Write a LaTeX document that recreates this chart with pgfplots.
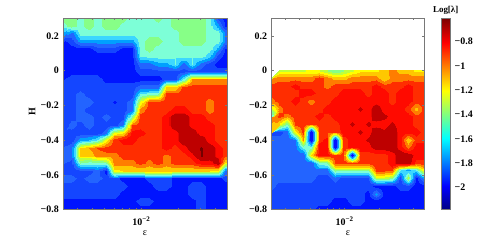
\documentclass[border=0pt]{standalone}
\usepackage{fontspec}
\setmainfont{Liberation Serif}
\usepackage{pgfplots}
\usepgfplotslibrary{patchplots}
\pgfplotsset{compat=1.18}
\definecolor{frame}{RGB}{120,120,120}
\pgfplotsset{
  colormap={bands}{
    rgb255(0)=(0,20,255) rgb255(178)=(0,20,255)
    rgb255(180)=(20,70,255) rgb255(278)=(20,70,255)
    rgb255(280)=(35,100,255) rgb255(378)=(35,100,255)
    rgb255(380)=(0,160,255) rgb255(478)=(0,160,255)
    rgb255(480)=(60,215,255) rgb255(578)=(60,215,255)
    rgb255(580)=(125,255,215) rgb255(678)=(125,255,215)
    rgb255(680)=(135,255,135) rgb255(778)=(135,255,135)
    rgb255(780)=(190,255,60) rgb255(878)=(190,255,60)
    rgb255(880)=(255,255,0) rgb255(978)=(255,255,0)
    rgb255(980)=(255,200,0) rgb255(1078)=(255,200,0)
    rgb255(1080)=(255,125,0) rgb255(1178)=(255,125,0)
    rgb255(1180)=(255,45,0) rgb255(1278)=(255,45,0)
    rgb255(1280)=(255,10,0) rgb255(1378)=(255,10,0)
    rgb255(1380)=(190,0,0) rgb255(1498)=(190,0,0)
    rgb255(1500)=(115,0,0) rgb255(1570)=(115,0,0)
  },
  common/.style={
    scale only axis, height=191bp, anchor=south west,
    view={0}{90},
    tick align=inside,
    every tick/.style={frame, line width=0.4bp},
    axis line style={frame, line width=1bp},
    every tick label/.append style={font=\bfseries\fontsize{10}{12}\selectfont},
    point meta min=-2.18, point meta max=-0.61,
  },
  panel/.style={
    common,
    xmin=-2.638, xmax=-1.301, ymin=-0.8, ymax=0.3,
    xtick={-2}, xticklabels={10\textsuperscript{−2}},
    minor xtick={-2.523,-2.398,-2.301,-2.222,-2.155,-2.097,-2.046,-1.699,-1.523,-1.398},
    ytick={-0.8,-0.6,-0.4,-0.2,0,0.2},
    yticklabels={−0.8,−0.6,−0.4,−0.2,0,0.2},
    major tick length=2bp, minor tick length=1.2bp,
    xticklabel style={yshift=-4bp},
    yticklabel style={xshift=-1bp},
    colormap name=bands,
  },
}
\begin{document}
\begin{tikzpicture}[x=1bp,y=1bp]
\path[use as bounding box] (0,0) rectangle (485,249);
\begin{axis}[panel, at={(63.3bp,39.5bp)}, width=163.7bp]
\addplot3[surf, shader=interp, patch type=bilinear, mesh/cols=20, point meta=z]
 table[row sep=\\, x expr={-2.638+0.07037*mod(\coordindex,20)}, y expr={-0.8+0.044*floor(\coordindex/20)}, z index=0, header=false] {
-2.05\\-2.05\\-2.05\\-2.05\\-2.05\\-2.05\\-2.05\\-2.05\\-2.05\\-2.05\\-2.05\\-2.05\\-2.05\\-2.05\\-2.05\\-2.05\\-1.95\\-2.05\\-2.05\\-2.05\\
-2.05\\-2.05\\-2.05\\-2.05\\-2.05\\-2.05\\-2.05\\-2.05\\-2.05\\-1.95\\-1.95\\-2.05\\-2.05\\-2.05\\-2.05\\-2.05\\-1.95\\-2.05\\-2.05\\-2.05\\
-1.95\\-1.95\\-1.95\\-1.95\\-1.95\\-1.95\\-1.95\\-2.05\\-2.05\\-2.05\\-2.05\\-2.05\\-2.05\\-2.05\\-2.05\\-1.95\\-1.95\\-2.05\\-2.05\\-2.05\\
-1.95\\-1.95\\-1.95\\-1.95\\-1.95\\-1.95\\-1.95\\-1.95\\-2.05\\-2.05\\-2.05\\-1.95\\-1.95\\-2.05\\-2.05\\-1.95\\-1.95\\-2.05\\-2.05\\-2.05\\
-1.85\\-1.85\\-1.95\\-1.85\\-1.85\\-1.95\\-1.95\\-2.05\\-2.05\\-2.05\\-1.95\\-1.95\\-1.95\\-2.05\\-2.05\\-2.05\\-2.05\\-2.05\\-2.05\\-1.95\\
-1.95\\-1.95\\-1.95\\-1.95\\-1.85\\-2.05\\-1.25\\-1.2\\-1.2\\-1.2\\-1.2\\-1.2\\-1.2\\-1.2\\-1.2\\-1.2\\-1.2\\-1.2\\-1.25\\-1.95\\
-1.95\\-1.95\\-1.5\\-1.55\\-1.55\\-1.5\\-1.05\\-1.05\\-1.05\\-0.95\\-1.05\\-0.95\\-1.05\\-0.95\\-0.95\\-0.95\\-0.85\\-0.85\\-0.72\\-1.3\\
-1.85\\-1.85\\-1.2\\-1.2\\-1.05\\-1.05\\-1.05\\-0.95\\-0.95\\-0.95\\-0.95\\-0.95\\-1.05\\-0.95\\-0.95\\-0.85\\-0.67\\-0.72\\-0.85\\-0.95\\
-1.85\\-1.85\\-1.2\\-1.1\\-1.0\\-0.95\\-0.95\\-0.95\\-0.95\\-0.95\\-0.95\\-0.95\\-0.85\\-0.95\\-0.85\\-0.72\\-0.67\\-0.72\\-0.85\\-0.95\\
-1.95\\-1.95\\-1.75\\-1.7\\-1.6\\-1.25\\-0.95\\-0.85\\-0.85\\-0.95\\-0.95\\-0.95\\-0.85\\-0.85\\-0.72\\-0.72\\-0.72\\-0.85\\-0.95\\-0.95\\
-1.95\\-1.95\\-1.95\\-1.95\\-1.95\\-1.85\\-1.25\\-1.2\\-0.85\\-0.85\\-0.95\\-0.95\\-0.85\\-0.85\\-0.72\\-0.72\\-0.85\\-0.85\\-0.95\\-0.95\\
-1.95\\-1.85\\-1.95\\-1.85\\-1.95\\-1.95\\-1.95\\-1.8\\-1.0\\-0.95\\-0.95\\-0.95\\-0.85\\-0.72\\-0.72\\-0.85\\-0.85\\-0.85\\-0.95\\-0.95\\
-1.95\\-1.95\\-1.85\\-1.85\\-1.95\\-1.85\\-1.95\\-1.95\\-1.45\\-0.95\\-0.95\\-0.95\\-0.85\\-0.72\\-0.72\\-0.85\\-0.85\\-0.95\\-0.95\\-0.95\\
-1.95\\-1.95\\-1.85\\-1.95\\-1.95\\-1.95\\-1.95\\-1.95\\-1.85\\-1.05\\-0.95\\-0.95\\-0.95\\-0.85\\-0.85\\-0.95\\-0.95\\-1.05\\-0.95\\-0.95\\
-1.95\\-1.95\\-1.85\\-1.85\\-1.95\\-1.95\\-2.01\\-1.95\\-1.85\\-1.3\\-0.95\\-0.95\\-0.95\\-0.95\\-0.95\\-0.95\\-0.95\\-1.05\\-0.95\\-0.95\\
-1.95\\-1.95\\-1.85\\-1.95\\-1.95\\-1.95\\-1.95\\-1.95\\-1.95\\-1.6\\-1.55\\-1.5\\-0.95\\-0.95\\-0.95\\-0.95\\-0.95\\-0.95\\-0.95\\-0.95\\
-1.95\\-1.95\\-1.95\\-1.95\\-1.95\\-1.95\\-1.95\\-1.95\\-1.95\\-1.85\\-1.85\\-1.85\\-1.2\\-1.2\\-0.95\\-0.95\\-0.95\\-0.95\\-0.95\\-0.95\\
-1.95\\-1.95\\-1.95\\-1.95\\-1.95\\-2.05\\-2.05\\-2.05\\-2.05\\-2.05\\-2.05\\-2.05\\-1.95\\-1.95\\-1.6\\-1.1\\-1.1\\-1.1\\-1.1\\-1.1\\
-2.05\\-2.05\\-2.05\\-2.05\\-2.05\\-2.05\\-2.05\\-2.05\\-2.05\\-1.95\\-1.95\\-1.95\\-1.95\\-1.95\\-1.95\\-1.95\\-1.95\\-1.95\\-1.95\\-1.95\\
-2.05\\-2.05\\-2.05\\-2.05\\-2.05\\-2.05\\-2.05\\-2.05\\-2.05\\-1.85\\-1.85\\-1.75\\-1.75\\-1.6\\-1.85\\-1.6\\-1.85\\-1.95\\-2.05\\-2.05\\
-2.05\\-2.05\\-2.05\\-2.05\\-2.05\\-2.05\\-2.05\\-2.05\\-2.05\\-1.6\\-1.55\\-1.55\\-1.55\\-1.6\\-1.55\\-1.6\\-1.55\\-1.65\\-1.95\\-2.05\\
-2.05\\-2.05\\-2.05\\-2.05\\-1.95\\-1.95\\-1.95\\-2.05\\-2.05\\-1.55\\-1.45\\-1.55\\-1.55\\-1.55\\-1.55\\-1.55\\-1.55\\-1.55\\-1.75\\-2.05\\
-2.05\\-1.95\\-1.75\\-1.75\\-1.75\\-1.75\\-1.75\\-1.75\\-1.75\\-1.55\\-1.45\\-1.45\\-1.55\\-1.55\\-1.45\\-1.45\\-1.45\\-1.55\\-1.55\\-1.85\\
-1.95\\-1.85\\-1.55\\-1.55\\-1.55\\-1.55\\-1.55\\-1.55\\-1.55\\-1.55\\-1.55\\-1.55\\-1.55\\-1.55\\-1.45\\-1.45\\-1.45\\-1.55\\-1.55\\-1.85\\
-1.55\\-1.45\\-1.55\\-1.45\\-1.55\\-1.45\\-1.45\\-1.55\\-1.55\\-1.55\\-1.55\\-1.55\\-1.55\\-1.45\\-1.45\\-1.45\\-1.45\\-1.55\\-1.75\\-2.05\\
-1.45\\-1.45\\-1.55\\-1.45\\-1.55\\-1.45\\-1.45\\-1.45\\-1.55\\-1.55\\-1.55\\-1.45\\-1.55\\-1.45\\-1.45\\-1.45\\-1.45\\-1.55\\-1.95\\-2.05\\
};
\end{axis}
\begin{axis}[panel, at={(271.7bp,39.5bp)}, width=152.6bp]
\addplot3[surf, shader=interp, patch type=bilinear, mesh/cols=20, point meta=z]
 table[row sep=\\, x expr={-2.638+0.07037*mod(\coordindex,20)}, y expr={-0.8+0.04444*floor(\coordindex/20)}, z index=0, header=false] {
-1.95\\-1.95\\-1.95\\-1.95\\-1.95\\-1.95\\-2.05\\-2.05\\-2.05\\-2.05\\-2.05\\-2.05\\-2.05\\-2.05\\-2.05\\-2.05\\-2.05\\-2.05\\-2.05\\-2.05\\
-1.95\\-1.95\\-1.95\\-1.95\\-1.95\\-1.95\\-1.95\\-1.95\\-2.05\\-2.05\\-1.95\\-1.95\\-2.05\\-2.05\\-2.05\\-2.05\\-2.05\\-2.05\\-2.05\\-2.05\\
-1.95\\-1.95\\-1.95\\-1.95\\-1.95\\-1.95\\-1.95\\-1.95\\-1.95\\-1.95\\-1.95\\-1.95\\-2.05\\-1.75\\-2.05\\-2.05\\-2.05\\-2.05\\-2.05\\-2.05\\
-1.85\\-1.95\\-1.95\\-1.95\\-1.95\\-1.95\\-1.95\\-1.95\\-1.95\\-1.95\\-1.95\\-1.95\\-1.95\\-2.05\\-2.05\\-2.05\\-1.95\\-1.95\\-2.05\\-2.05\\
-1.85\\-1.85\\-1.85\\-1.85\\-1.85\\-1.85\\-1.95\\-1.95\\-1.85\\-1.95\\-1.95\\-1.95\\-1.95\\-1.35\\-1.35\\-1.45\\-1.95\\-1.35\\-2.05\\-1.75\\
-1.85\\-1.85\\-1.85\\-1.85\\-1.85\\-1.85\\-1.85\\-1.85\\-1.45\\-1.45\\-1.45\\-1.45\\-1.45\\-0.95\\-0.95\\-0.95\\-1.6\\-1.75\\-1.6\\-1.2\\
-1.85\\-1.85\\-1.85\\-1.85\\-1.85\\-1.9\\-1.55\\-1.5\\-0.95\\-0.95\\-0.95\\-0.95\\-0.95\\-0.95\\-0.95\\-0.85\\-0.72\\-0.72\\-0.95\\-0.95\\
-1.85\\-1.85\\-1.85\\-1.85\\-1.9\\-1.2\\-0.85\\-0.85\\-1.0\\-0.95\\-2.18\\-0.95\\-0.95\\-0.95\\-0.95\\-0.85\\-0.72\\-0.72\\-0.85\\-0.85\\
-1.85\\-1.85\\-1.85\\-1.85\\-1.55\\-1.55\\-0.85\\-0.85\\-2.18\\-0.95\\-0.85\\-0.85\\-0.85\\-0.72\\-0.72\\-0.72\\-0.85\\-1.05\\-0.85\\-0.85\\
-1.85\\-1.85\\-1.85\\-1.85\\-1.1\\-2.18\\-0.95\\-0.85\\-2.18\\-0.95\\-0.85\\-0.85\\-0.78\\-0.72\\-0.72\\-0.72\\-0.85\\-1.2\\-0.95\\-0.95\\
-1.95\\-1.95\\-1.85\\-1.25\\-0.95\\-2.18\\-0.95\\-1.0\\-1.0\\-0.85\\-0.85\\-0.78\\-0.85\\-0.72\\-0.78\\-0.72\\-0.85\\-0.85\\-0.85\\-0.95\\
-1.2\\-1.2\\-1.5\\-0.95\\-0.95\\-1.0\\-0.95\\-1.0\\-0.95\\-0.85\\-0.78\\-0.85\\-0.78\\-0.85\\-0.85\\-0.78\\-0.85\\-0.85\\-0.95\\-0.95\\
-1.05\\-0.95\\-1.05\\-0.95\\-0.95\\-0.95\\-0.85\\-0.95\\-0.85\\-0.85\\-0.85\\-0.85\\-0.85\\-0.72\\-0.77\\-0.85\\-0.85\\-0.85\\-0.95\\-0.95\\
-1.6\\-1.05\\-0.95\\-0.95\\-0.95\\-0.95\\-0.95\\-0.85\\-0.85\\-0.85\\-0.85\\-0.78\\-0.85\\-0.72\\-0.85\\-0.85\\-0.85\\-0.95\\-1.15\\-0.95\\
-1.05\\-0.95\\-0.95\\-0.85\\-0.95\\-1.05\\-0.95\\-0.95\\-0.85\\-0.85\\-0.85\\-0.85\\-0.85\\-0.85\\-0.85\\-0.95\\-0.85\\-0.85\\-0.95\\-0.95\\
-0.95\\-0.95\\-0.95\\-0.95\\-0.85\\-0.85\\-0.95\\-0.95\\-0.95\\-0.85\\-0.85\\-0.85\\-0.95\\-0.85\\-0.85\\-0.95\\-0.85\\-0.85\\-0.95\\-0.95\\
-0.95\\-0.95\\-0.95\\-0.85\\-0.95\\-0.95\\-0.95\\-1.05\\-0.95\\-0.95\\-0.95\\-0.95\\-0.95\\-0.85\\-0.95\\-0.95\\-0.95\\-0.85\\-0.95\\-0.95\\
-1.05\\-1.05\\-1.05\\-1.05\\-1.05\\-1.05\\-0.95\\-1.05\\-1.15\\-1.15\\-1.05\\-1.05\\-1.05\\-1.05\\-1.2\\-1.05\\-1.05\\-1.05\\-1.05\\-1.05\\
-1.35\\-1.35\\-1.35\\-1.35\\-1.35\\-1.3\\-1.35\\-1.45\\-1.55\\-1.45\\-1.35\\-1.25\\-1.25\\-1.25\\-1.15\\-1.05\\-1.15\\-1.15\\-1.25\\-1.25\\
};
\end{axis}
\begin{axis}[common, at={(441bp,39.5bp)}, width=9.7bp,
  xmin=0, xmax=1, ymin=-2.18, ymax=-0.61,
  xtick=\empty, ytick pos=right,
  ytick={-2,-1.8,-1.6,-1.4,-1.2,-1,-0.8},
  yticklabels={−2,−1.8,−1.6,−1.4,−1.2,−1,−0.8},
  major tick length=0bp,
  yticklabel style={anchor=west, xshift=0.5bp},
  colormap/jet]
\addplot3[surf, shader=interp, mesh/cols=2, point meta=z] coordinates {
 (0,-2.18,-2.18) (1,-2.18,-2.18)
 (0,-0.61,-0.61) (1,-0.61,-0.61)
};
\end{axis}
\node[rotate=90, font=\bfseries\fontsize{10}{12}\selectfont] at (32,137) {H};
\node[font=\fontsize{10}{12}\selectfont] at (145,16) {ε};
\node[font=\fontsize{10}{12}\selectfont] at (348,16) {ε};
\node[font=\bfseries\fontsize{9}{10}\selectfont] at (445.7,239) {Log[λ]};
\end{tikzpicture}
\end{document}
